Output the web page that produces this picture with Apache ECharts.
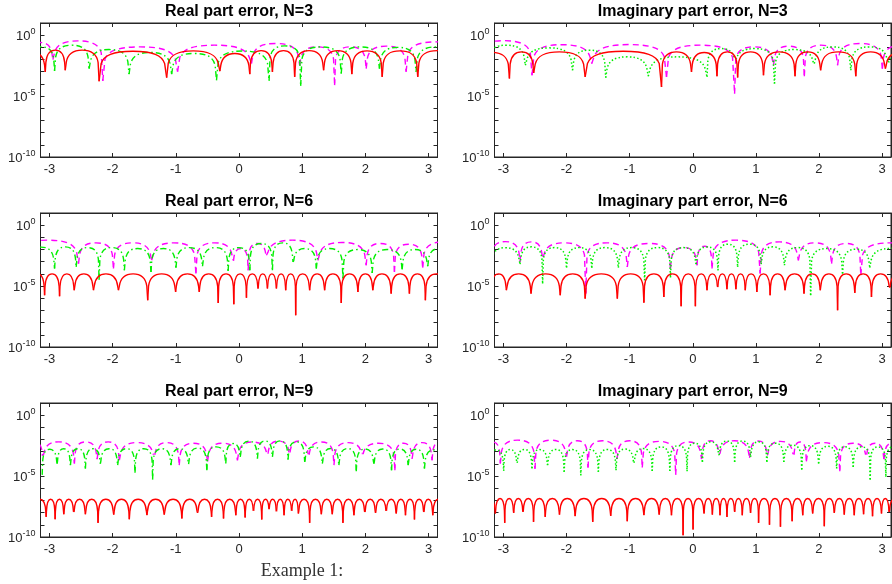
<!DOCTYPE html>
<html>
<head>
<meta charset="utf-8">
<script src="https://cdn.jsdelivr.net/npm/echarts@6/dist/echarts.min.js"></script>
<style>html,body{margin:0;padding:0;background:#fff;}#chart{width:892px;height:584px;}</style>
</head>
<body>
<div id="chart"></div>
<script>
// ---------- axis ticks / labels ----------
const xTickValues = [-3, -2, -1, 0, 1, 2, 3];
const yTickValues = [1e-10, 1e-9, 1e-8, 1e-7, 1e-6, 1e-5, 1e-4, 1e-3, 1e-2, 1e-1, 1, 10];
const yLabelValues = [1e-10, 1e-5, 1];
const panelTitles = ['Real part error, N=3', 'Imaginary part error, N=3',
                     'Real part error, N=6', 'Imaginary part error, N=6',
                     'Real part error, N=9', 'Imaginary part error, N=9'];
const caption = 'Example 1:';

// ---------- data: dip positions, dip levels (log10) and arch peak levels (log10) ----------
// Real, N=3
const r3RedDipX = [-3.45, -3.066, -2.75, -2.214, -1.145, -0.303, 0.171, 0.529, 0.881, 1.339, 1.786, 2.266, 2.829, 3.45];
const r3RedDipLog = [-3.0, -3.01, -2.88, -3.78, -3.48, -2.96, -3.2, -3.01, -3.42, -2.88, -3.2, -3.42, -3.42, -3.0];
const r3RedPeakLog = [-1.45, -1.23, -1.23, -1.32, -1.29, -1.5, -1.27, -1.27, -1.27, -1.27, -1.29, -1.29, -1.27];
const r3GreenDipX = [-3.35, -2.919, -2.372, -1.74, -1.066, -0.356, 0.476, 0.976, 1.618, 2.223, 2.802, 3.45];
const r3GreenDipLog = [-3.0, -2.93, -2.74, -3.2, -3.2, -3.7, -3.75, -4.16, -3.15, -2.74, -3.0, -3.0];
const r3GreenPeakLog = [-0.95, -0.82, -1.18, -1.42, -1.5, -1.3, -0.88, -0.96, -0.96, -1.0, -0.96];
const r3MagDipX = [-3.35, -2.945, -2.156, -0.972, 0.197, 0.96, 1.513, 2.013, 2.645, 3.6];
const r3MagDipLog = [-2.0, -2.0, -3.75, -3.0, -2.33, -2.47, -4.1, -2.74, -3.0, -2.5];
const r3MagPeakLog = [-0.6, -0.47, -0.96, -0.82, -0.68, -0.96, -0.96, -0.9, -0.55];
// Imaginary, N=3
const i3RedDipX = [-3.5, -2.905, -2.521, -1.705, -0.495, -0.02, 0.384, 0.711, 1.121, 1.621, 2.026, 2.584, 3.053, 3.5];
const i3RedDipLog = [-3.0, -3.56, -3.1, -3.42, -4.25, -3.01, -3.37, -3.48, -3.29, -3.37, -2.88, -3.37, -2.74, -3.0];
const i3RedPeakLog = [-1.4, -1.37, -1.37, -1.32, -1.37, -1.42, -1.37, -1.37, -1.37, -1.37, -1.37, -1.37, -1.45];
const i3GreenDipX = [-3.25, -2.653, -1.905, -1.379, -0.705, 0.226, 0.674, 1.295, 1.926, 2.505, 3.095, 3.6];
const i3GreenDipLog = [-3.0, -2.47, -2.88, -3.48, -3.37, -3.42, -1.92, -3.97, -2.33, -2.88, -2.19, -3.0];
const i3GreenPeakLog = [-0.82, -1.04, -1.23, -1.78, -1.78, -1.1, -1.1, -1.18, -0.96, -0.96, -1.2];
const i3MagDipX = [-3.45, -2.547, -1.6, -0.416, 0.663, 1.279, 1.768, 2.295, 3.005, 3.6];
const i3MagDipLog = [-2.0, -3.29, -2.33, -3.42, -4.8, -2.47, -3.37, -2.47, -2.74, -2.0];
const i3MagPeakLog = [-0.45, -0.78, -0.77, -0.82, -0.96, -0.9, -0.82, -0.68, -0.85];
// Real, N=6
const r6RedDipX = [-3.3, -3.077, -2.84, -2.608, -2.303, -1.908, -1.445, -1.003, -0.629, -0.329, -0.082, 0.118, 0.302, 0.45, 0.592, 0.739, 0.897, 1.118, 1.355, 1.618, 1.882, 2.118, 2.408, 2.697, 2.95, 3.3];
const r6RedDipLog = [-5.5, -5.75, -5.84, -5.34, -5.34, -5.34, -6.16, -5.48, -5.48, -6.38, -6.49, -5.95, -5.2, -5.2, -5.2, -5.34, -7.4, -5.34, -5.34, -6.38, -5.48, -5.34, -5.62, -5.62, -6.16, -5.5];
const r6RedPeakLog = [-4.0, -4.0, -4.0, -4.0, -4.0, -4.0, -4.0, -4.0, -4.0, -4.0, -4.0, -4.0, -4.0, -4.0, -4.0, -4.0, -4.0, -4.0, -4.0, -4.0, -4.0, -4.0, -4.0, -4.0, -4.0];
const r6GreenDipX = [-3.35, -2.919, -2.577, -2.214, -1.814, -1.393, -0.998, -0.577, -0.172, 0.171, 0.529, 0.855, 1.224, 1.645, 2.108, 2.582, 2.987, 3.35];
const r6GreenDipLog = [-3.5, -3.56, -3.42, -4.47, -3.7, -3.84, -3.48, -3.37, -3.75, -3.7, -3.7, -3.01, -3.56, -4.38, -3.92, -3.64, -3.37, -3.5];
const r6GreenPeakLog = [-1.8, -1.78, -1.84, -1.84, -1.92, -1.92, -1.84, -1.84, -1.84, -1.5, -1.45, -1.92, -1.92, -2.0, -2.0, -2.0, -1.92];
const r6MagDipX = [-3.5, -2.54, -1.987, -1.382, -0.682, -0.093, 0.145, 0.434, 1.25, 2.013, 2.46, 2.907, 3.6];
const r6MagDipLog = [-2.5, -3.15, -3.56, -2.88, -3.97, -2.88, -3.7, -2.47, -2.88, -3.29, -3.84, -3.48, -2.5];
const r6MagPeakLog = [-1.23, -1.45, -1.45, -1.45, -1.45, -1.92, -1.5, -1.23, -1.42, -1.5, -1.56, -1.37];
// Imaginary, N=6
const i6RedDipX = [-3.2, -2.953, -2.563, -2.1, -1.705, -1.195, -0.774, -0.458, -0.184, 0.042, 0.226, 0.395, 0.542, 0.684, 0.832, 1.016, 1.226, 1.463, 1.763, 2.021, 2.295, 2.568, 2.832, 3.121, 3.4];
const i6RedDipLog = [-5.5, -5.34, -5.62, -5.75, -6.03, -6.03, -6.36, -5.89, -6.66, -6.66, -5.34, -5.07, -5.26, -5.26, -5.34, -5.48, -5.75, -5.34, -5.62, -5.34, -6.99, -5.56, -5.89, -5.12, -5.5];
const i6RedPeakLog = [-4.0, -4.0, -4.0, -4.0, -4.0, -4.0, -4.0, -4.0, -4.0, -4.0, -4.0, -4.0, -4.0, -4.0, -4.0, -4.0, -4.0, -4.0, -4.0, -4.0, -4.0, -4.0, -4.0, -4.0];
const i6GreenDipX = [-3.2, -2.737, -2.379, -2.0, -1.6, -1.179, -0.763, -0.353, 0.053, 0.4, 0.711, 1.084, 1.453, 1.868, 2.374, 2.805, 3.5];
const i6GreenDipLog = [-3.3, -3.2, -4.79, -3.48, -3.51, -3.48, -4.52, -4.3, -3.2, -3.7, -3.42, -3.2, -3.29, -5.75, -3.97, -3.48, -3.0];
const i6GreenPeakLog = [-1.85, -1.78, -1.84, -1.84, -1.84, -1.84, -1.84, -1.84, -1.78, -1.56, -1.56, -1.78, -1.84, -1.92, -1.97, -1.9];
const i6MagDipX = [-3.2, -2.737, -2.379, -1.695, -1.037, -0.353, 0.068, 0.305, 1.068, 1.674, 2.2, 2.663, 3.6];
const i6MagDipLog = [-2.5, -3.01, -2.6, -5.6, -3.42, -3.56, -3.29, -3.56, -3.97, -2.88, -3.15, -4.1, -2.5];
const i6MagPeakLog = [-1.35, -1.37, -1.45, -1.45, -1.5, -1.84, -1.73, -1.23, -1.37, -1.45, -1.5, -1.45];
// Real, N=9
const r9RedDipX = [-3.25, -3.052, -2.91, -2.773, -2.615, -2.431, -2.231, -1.983, -1.736, -1.457, -1.183, -0.904, -0.656, -0.434, -0.245, -0.05, 0.097, 0.229, 0.36, 0.476, 0.592, 0.713, 0.834, 0.94, 1.118, 1.303, 1.476, 1.645, 1.819, 1.992, 2.161, 2.33, 2.488, 2.635, 2.777, 2.925, 3.067, 3.25];
const r9RedDipLog = [-8.3, -8.35, -8.54, -8.13, -7.94, -8.13, -8.84, -8.16, -8.54, -8.21, -8.16, -8.48, -8.02, -8.35, -8.48, -8.21, -8.4, -7.8, -8.57, -7.66, -7.85, -8.21, -7.8, -8.07, -8.84, -8.13, -8.13, -8.84, -8.21, -7.94, -8.02, -7.8, -8.07, -8.21, -8.57, -7.94, -8.21, -8.3];
const r9RedPeakLog = [-6.9, -6.9, -6.9, -6.9, -6.9, -6.9, -6.9, -6.9, -6.9, -6.9, -6.9, -6.9, -6.9, -6.9, -6.9, -6.9, -6.9, -6.9, -6.9, -6.9, -6.9, -6.9, -6.9, -6.9, -6.9, -6.9, -6.9, -6.9, -6.9, -6.9, -6.9, -6.9, -6.9, -6.9, -6.9, -6.9, -6.9];
const r9GreenDipX = [-3.115, -2.878, -2.668, -2.431, -2.194, -1.92, -1.646, -1.367, -1.077, -0.798, -0.509, -0.209, 0.02, 0.292, 0.529, 0.776, 1.04, 1.319, 1.581, 1.856, 2.135, 2.414, 2.678, 2.935, 3.25];
const r9GreenDipLog = [-4.9, -3.97, -4.1, -4.38, -3.97, -4.1, -4.73, -5.28, -4.1, -4.02, -4.52, -3.97, -3.42, -3.56, -3.42, -3.64, -3.83, -3.97, -4.1, -4.6, -3.97, -4.52, -4.1, -4.38, -3.8];
const r9GreenPeakLog = [-2.8, -2.75, -2.75, -2.75, -2.75, -2.75, -2.75, -2.75, -2.75, -2.7, -2.6, -2.33, -2.13, -2.11, -2.11, -2.19, -2.6, -2.74, -2.74, -2.78, -2.78, -2.78, -2.8, -2.85];
const r9MagDipX = [-3.3, -3.105, -2.605, -2.246, -1.894, -1.341, -0.946, -0.498, -0.024, 0.45, 0.8, 1.1, 1.503, 1.95, 2.467, 2.74, 3.056, 3.3];
const r9MagDipLog = [-2.5, -3.3, -3.97, -3.6, -3.7, -3.2, -4.1, -3.8, -3.7, -3.1, -3.0, -3.2, -4.1, -3.15, -4.52, -3.56, -3.7, -2.5];
const r9MagPeakLog = [-2.3, -2.19, -2.19, -2.19, -2.25, -2.25, -2.3, -2.3, -2.2, -2.12, -2.12, -2.2, -2.25, -2.3, -2.3, -2.25, -2.2];
// Imaginary, N=9
const i9RedDipX = [-3.3, -3.128, -2.98, -2.838, -2.69, -2.523, -2.338, -2.112, -1.864, -1.585, -1.3, -1.038, -0.774, -0.532, -0.337, -0.153, 0.005, 0.179, 0.311, 0.432, 0.542, 0.664, 0.785, 0.916, 1.043, 1.216, 1.39, 1.575, 1.743, 1.9, 2.085, 2.243, 2.401, 2.559, 2.707, 2.849, 2.991, 3.112, 3.3];
const i9RedDipLog = [-8.0, -8.07, -8.84, -8.02, -7.94, -8.76, -8.35, -8.16, -8.29, -8.76, -8.27, -8.7, -8.21, -8.16, -8.21, -9.85, -9.39, -8.07, -8.16, -8.21, -8.35, -7.94, -8.21, -8.02, -8.84, -9.0, -9.16, -8.7, -8.21, -8.07, -9.11, -8.02, -8.16, -8.21, -8.13, -8.29, -8.07, -7.94, -8.0];
const i9RedPeakLog = [-6.84, -6.84, -6.84, -6.84, -6.84, -6.84, -6.84, -6.84, -6.84, -6.84, -6.84, -6.84, -6.84, -6.84, -6.84, -6.84, -6.84, -6.84, -6.84, -6.84, -6.84, -6.84, -6.84, -6.84, -6.84, -6.84, -6.84, -6.84, -6.84, -6.84, -6.84, -6.84, -6.84, -6.84, -6.84, -6.84, -6.84, -6.84];
const i9GreenDipX = [-3.25, -2.996, -2.785, -2.548, -2.301, -2.038, -1.774, -1.496, -1.216, -0.932, -0.642, -0.363, -0.09, 0.153, 0.416, 0.664, 0.916, 1.174, 1.443, 1.727, 1.995, 2.28, 2.543, 2.812, 3.06, 3.3];
const i9GreenDipLog = [-3.5, -4.57, -3.91, -4.38, -4.1, -4.65, -4.93, -4.65, -4.52, -3.91, -4.57, -4.57, -4.6, -3.83, -3.28, -3.83, -3.42, -3.83, -3.83, -4.46, -3.97, -4.38, -4.24, -5.28, -5.06, -3.5];
const i9GreenPeakLog = [-2.85, -2.82, -2.82, -2.82, -2.82, -2.82, -2.82, -2.82, -2.78, -2.74, -2.6, -2.5, -2.3, -2.19, -2.12, -2.12, -2.19, -2.3, -2.46, -2.5, -2.55, -2.6, -2.6, -2.6, -2.6];
const i9MagDipX = [-3.3, -3.049, -2.5, -2.0, -1.66, -1.2, -0.8, -0.27, 0.14, 0.42, 0.9, 1.18, 1.6, 1.8, 2.33, 2.75, 3.03, 3.3];
const i9MagDipLog = [-2.5, -3.97, -4.4, -3.4, -4.3, -3.6, -4.3, -4.9, -3.6, -3.2, -3.5, -3.3, -3.2, -3.8, -4.6, -3.2, -3.6, -2.5];
const i9MagPeakLog = [-2.2, -2.05, -2.05, -2.1, -2.1, -2.1, -2.15, -2.2, -2.1, -2.1, -2.12, -2.15, -2.2, -2.25, -2.3, -2.3, -2.3];

// ---------- layout / style ----------
const axisColor = '#262626';
const colLeft = [40.5, 494.5];
const colWidth = [397, 396.5];
const rowTop = [23, 213, 403];
const rowHeight = 134;
const styles = {
  red:   { color: '#ff0000', dash: null, width: 1.4 },
  greenReal: { color: '#00f000', dash: [6, 3, 1.5, 3], width: 1.4 },
  greenImag: { color: '#00f000', dash: [1.5, 2.2], width: 1.5 },
  mag:   { color: '#ff00ff', dash: [6, 4], width: 1.4 }
};

const panels = [
  { title: panelTitles[0], col: 0, row: 0, green: 'greenReal', curves: [[r3MagDipX, r3MagDipLog, r3MagPeakLog, 'mag'], [r3GreenDipX, r3GreenDipLog, r3GreenPeakLog, 'g'], [r3RedDipX, r3RedDipLog, r3RedPeakLog, 'red']] },
  { title: panelTitles[1], col: 1, row: 0, green: 'greenImag', curves: [[i3MagDipX, i3MagDipLog, i3MagPeakLog, 'mag'], [i3GreenDipX, i3GreenDipLog, i3GreenPeakLog, 'g'], [i3RedDipX, i3RedDipLog, i3RedPeakLog, 'red']] },
  { title: panelTitles[2], col: 0, row: 1, green: 'greenReal', curves: [[r6MagDipX, r6MagDipLog, r6MagPeakLog, 'mag'], [r6GreenDipX, r6GreenDipLog, r6GreenPeakLog, 'g'], [r6RedDipX, r6RedDipLog, r6RedPeakLog, 'red']] },
  { title: panelTitles[3], col: 1, row: 1, green: 'greenImag', curves: [[i6MagDipX, i6MagDipLog, i6MagPeakLog, 'mag'], [i6GreenDipX, i6GreenDipLog, i6GreenPeakLog, 'g'], [i6RedDipX, i6RedDipLog, i6RedPeakLog, 'red']] },
  { title: panelTitles[4], col: 0, row: 2, green: 'greenReal', curves: [[r9MagDipX, r9MagDipLog, r9MagPeakLog, 'mag'], [r9GreenDipX, r9GreenDipLog, r9GreenPeakLog, 'g'], [r9RedDipX, r9RedDipLog, r9RedPeakLog, 'red']] },
  { title: panelTitles[5], col: 1, row: 2, green: 'greenImag', curves: [[i9MagDipX, i9MagDipLog, i9MagPeakLog, 'mag'], [i9GreenDipX, i9GreenDipLog, i9GreenPeakLog, 'g'], [i9RedDipX, i9RedDipLog, i9RedPeakLog, 'red']] }
];

// one item per arch: [x of left dip, x of right dip, left dip value, peak value, right dip value]
function archData(dipX, dipLog, peakLog) {
  const out = [];
  for (let i = 0; i < peakLog.length; i++) {
    out.push([dipX[i], dipX[i + 1], Math.pow(10, dipLog[i]), Math.pow(10, peakLog[i]), Math.pow(10, dipLog[i + 1])]);
  }
  return out;
}

function makeRenderer(st) {
  return function (params, api) {
    const xL = api.value(0), xR = api.value(1);
    const pL = api.coord([xL, api.value(2)]);
    const pR = api.coord([xR, api.value(4)]);
    const pP = api.coord([(xL + xR) / 2, api.value(3)]);
    const dec = api.coord([xL, 1])[1] - api.coord([xL, 10])[1];
    const w = pR[0] - pL[0], xm = pP[0], yP = pP[1];
    const dL = Math.max(0, Math.min(pL[1] - yP, dec));
    const dR = Math.max(0, Math.min(pR[1] - yP, dec));
    const c = 0.33 * dec;
    const d = [
      'M', pL[0], pL[1],
      'L', pL[0] + 0.03 * w, yP + dL,
      'C', pL[0] + 0.07 * w, yP + Math.min(c, dL), pL[0] + 0.2 * w, yP, xm, yP,
      'C', pR[0] - 0.2 * w, yP, pR[0] - 0.07 * w, yP + Math.min(c, dR), pR[0] - 0.03 * w, yP + dR,
      'L', pR[0], pR[1]
    ].join(' ');
    return {
      type: 'path',
      shape: { pathData: d },
      style: { fill: null, stroke: st.color, lineWidth: st.width, lineDash: st.dash || null }
    };
  };
}

const grids = [], xAxes = [], yAxes = [], series = [], titles = [];
const labelFont = 'Liberation Sans';
panels.forEach((p, i) => {
  const left = colLeft[p.col], width = colWidth[p.col], top = rowTop[p.row];
  grids.push({ left: left, top: top, width: width, height: rowHeight, show: true, borderColor: axisColor, borderWidth: 1 });
  titles.push({
    text: p.title, left: left + width / 2, top: top - 19, textAlign: 'center', padding: 0,
    textStyle: { fontFamily: labelFont, fontWeight: 'bold', fontSize: 16, color: '#000' }
  });
  const tickStyle = { color: axisColor, width: 1 };
  xAxes.push({
    gridIndex: i, type: 'value', min: -Math.PI, max: Math.PI, position: 'bottom',
    axisLine: { onZero: false, lineStyle: tickStyle },
    axisTick: { inside: true, length: 4, customValues: xTickValues, lineStyle: tickStyle },
    axisLabel: { customValues: xTickValues, color: axisColor, fontFamily: labelFont, fontSize: 13, margin: 6 },
    splitLine: { show: false }
  });
  xAxes.push({
    gridIndex: i, type: 'value', min: -Math.PI, max: Math.PI, position: 'top',
    axisLine: { onZero: false, lineStyle: tickStyle },
    axisTick: { inside: true, length: 4, customValues: xTickValues, lineStyle: tickStyle },
    axisLabel: { show: false }, splitLine: { show: false }
  });
  yAxes.push({
    gridIndex: i, type: 'log', logBase: 10, min: 1e-10, max: 10, position: 'left',
    axisLine: { show: true, onZero: false, lineStyle: tickStyle },
    axisTick: { show: true, inside: true, length: 4, customValues: yTickValues, lineStyle: tickStyle },
    axisLabel: {
      customValues: yLabelValues, margin: 5,
      formatter: v => '{b|10}{s|' + Math.round(Math.log10(v)) + '}',
      rich: {
        b: { fontFamily: labelFont, fontSize: 13, color: axisColor, lineHeight: 16, verticalAlign: 'bottom' },
        s: { fontFamily: labelFont, fontSize: 9, color: axisColor, lineHeight: 6, verticalAlign: 'top' }
      }
    },
    splitLine: { show: false }, minorTick: { show: false }
  });
  yAxes.push({
    gridIndex: i, type: 'log', logBase: 10, min: 1e-10, max: 10, position: 'right',
    axisLine: { show: true, onZero: false, lineStyle: tickStyle },
    axisTick: { show: true, inside: true, length: 4, customValues: yTickValues, lineStyle: tickStyle },
    axisLabel: { show: false }, splitLine: { show: false }
  });
  p.curves.forEach(cv => {
    const key = cv[3] === 'g' ? p.green : cv[3];
    series.push({
      type: 'custom', xAxisIndex: 2 * i, yAxisIndex: 2 * i, clip: true,
      renderItem: makeRenderer(styles[key]),
      encode: { x: [0, 1], y: [2, 3, 4] },
      data: archData(cv[0], cv[1], cv[2]),
      silent: true
    });
  });
});
titles.push({
  text: caption, left: 302, top: 562, textAlign: 'center', padding: 0,
  textStyle: { fontFamily: 'Liberation Serif', fontWeight: 'normal', fontSize: 18, color: '#333' }
});

const chart = echarts.init(document.getElementById('chart'), null, { renderer: 'canvas' });
chart.setOption({
  animation: false,
  backgroundColor: '#fff',
  title: titles,
  grid: grids,
  xAxis: xAxes,
  yAxis: yAxes,
  series: series
});
</script>
</body>
</html>
